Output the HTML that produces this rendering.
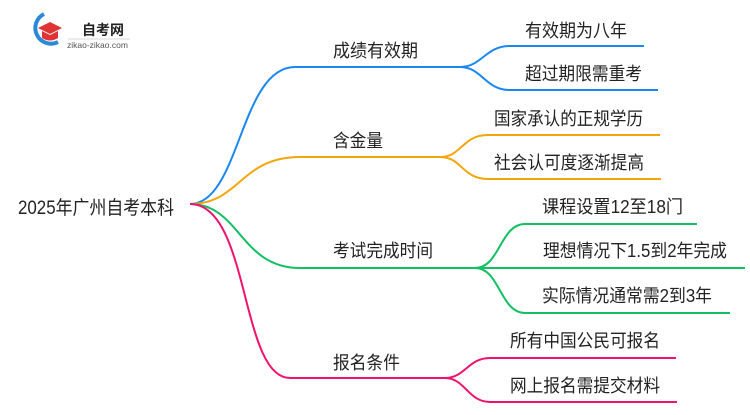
<!DOCTYPE html>
<html><head><meta charset="utf-8"><style>
body{margin:0;width:750px;height:410px;background:#fff;overflow:hidden}
svg text{font-family:"Liberation Sans","Noto Sans CJK SC",sans-serif;fill:#222}
</style></head><body>
<svg width="750" height="410" viewBox="0 0 750 410">
<!-- logo -->
<path d="M44 14 A13 13 0 1 0 58 42" fill="none" stroke="#2a8ad8" stroke-width="4"/>
<polygon points="38,28 50,22 62,28 50,34" fill="#e03434"/>
<path d="M42 31 L42 38 Q50 43 58 38 L58 31 L50 35 Z" fill="#e03434"/>
<text x="82" y="35" font-size="14" font-weight="bold">自考网</text>
<line x1="68" y1="39" x2="130" y2="39" stroke="#ccc" stroke-width="0.7"/>
<text x="67" y="48" font-size="8.5" style="fill:#555">zikao-zikao.com</text>

<g fill="none" stroke-width="2">
<g stroke="#1a86f2">
<path d="M190 204 C240 204 240 67 295 67 L460 67"/>
<path d="M460 67 C482 67 485 46 510 46 L644 46"/>
<path d="M460 67 C482 67 485 90 510 90 L658 90"/>
</g>
<g stroke="#f2a60c">
<path d="M190 204 C240 204 240 157 300 157 L440 157"/>
<path d="M440 157 C462 157 462 135 488 135 L660 135"/>
<path d="M440 157 C462 157 462 179 488 179 L661 179"/>
</g>
<g stroke="#12c063">
<path d="M190 204 C240 204 240 268 300 268 L475 268"/>
<path d="M475 268 C500 268 500 224 525 224 L697 224"/>
<path d="M475 268 L745 268"/>
<path d="M475 268 C500 268 500 313 525 313 L730 313"/>
</g>
<g stroke="#f0126e">
<path d="M190 204 C250 204 240 378 290 378 L445 378"/>
<path d="M445 378 C465 378 468 358 490 358 L676 358"/>
<path d="M445 378 C465 378 468 402 490 402 L677 402"/>
</g>
</g>

<text x="18" y="214" font-size="19" textLength="156" lengthAdjust="spacingAndGlyphs">2025年广州自考本科</text>
<text x="333" y="57" font-size="18" textLength="85" lengthAdjust="spacingAndGlyphs">成绩有效期</text>
<text x="333" y="147" font-size="18" textLength="50" lengthAdjust="spacingAndGlyphs">含金量</text>
<text x="333" y="257" font-size="18" textLength="100" lengthAdjust="spacingAndGlyphs">考试完成时间</text>
<text x="333" y="369" font-size="18" textLength="67" lengthAdjust="spacingAndGlyphs">报名条件</text>

<text x="525" y="37" font-size="18" textLength="102" lengthAdjust="spacingAndGlyphs">有效期为八年</text>
<text x="525" y="80" font-size="18" textLength="117" lengthAdjust="spacingAndGlyphs">超过期限需重考</text>
<text x="494" y="125" font-size="18" textLength="149" lengthAdjust="spacingAndGlyphs">国家承认的正规学历</text>
<text x="494" y="169" font-size="18" textLength="150" lengthAdjust="spacingAndGlyphs">社会认可度逐渐提高</text>
<text x="542" y="213" font-size="18" textLength="141" lengthAdjust="spacingAndGlyphs">课程设置12至18门</text>
<text x="543" y="257" font-size="18" textLength="184" lengthAdjust="spacingAndGlyphs">理想情况下1.5到2年完成</text>
<text x="542" y="302" font-size="18" textLength="170" lengthAdjust="spacingAndGlyphs">实际情况通常需2到3年</text>
<text x="510" y="347" font-size="18" textLength="150" lengthAdjust="spacingAndGlyphs">所有中国公民可报名</text>
<text x="510" y="392" font-size="18" textLength="150" lengthAdjust="spacingAndGlyphs">网上报名需提交材料</text>
</svg>
</body></html>
